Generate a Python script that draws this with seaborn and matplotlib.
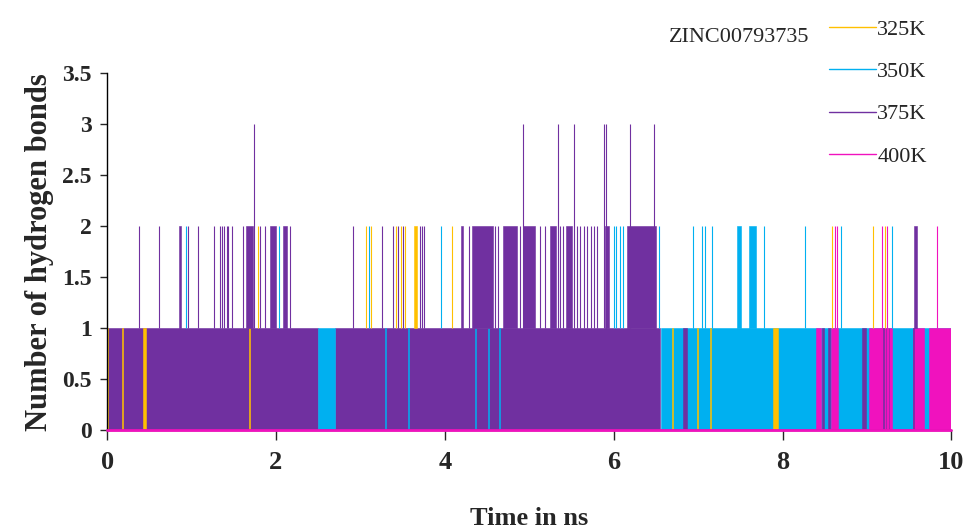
import matplotlib
matplotlib.use("Agg")
import matplotlib.pyplot as plt
from matplotlib.lines import Line2D
import seaborn as sns

## Hydrogen bonds of ZINC00793735 over 10 ns at four temperatures
temps = ["325K", "350K", "375K", "400K"]
colors = ["#FFC000", "#00B0F0", "#7030A0", "#F012BE"]

# stretches where each trace sits at 1 bond (start ns, end ns)
fill1_325 = [(0.0, 0.012), (0.175, 0.187), (0.42, 0.46), (1.685, 1.697),
             (6.685, 6.697), (6.985, 6.997), (7.145, 7.157), (7.89, 7.95)]
fill1_350 = [(2.50, 2.70), (3.295, 3.307), (3.565, 3.577), (4.355, 4.367),
             (4.505, 4.517), (4.645, 4.657), (6.555, 10.0)]
fill1_375 = [(0.012, 2.50), (2.70, 6.55), (6.82, 6.87), (8.47, 8.49),
             (8.54, 8.56), (8.94, 8.99), (9.19, 9.20), (9.22, 9.23),
             (9.255, 9.265), (9.545, 9.56)]
fill1_400 = [(8.39, 8.46), (8.57, 8.66), (9.02, 9.16), (9.16, 9.29),
             (9.55, 9.67), (9.73, 10.0)]

# stretches held at 2 bonds
block2_325 = [(3.63, 3.67)]
block2_350 = [(7.46, 7.51), (7.60, 7.68)]
block2_375 = [(0.85, 0.87), (1.64, 1.73), (1.93, 2.00), (2.08, 2.13),
              (4.19, 4.22), (4.32, 4.57), (4.69, 4.85), (4.93, 5.07),
              (5.24, 5.32), (5.44, 5.50), (5.90, 5.94), (6.16, 6.50),
              (9.56, 9.59)]
block2_400 = []

# single frames reaching 2 bonds
spike2_325 = [1.786, 3.07, 3.12, 3.42, 3.48, 3.53, 4.09, 8.59, 9.07, 9.21]
spike2_350 = [0.93, 2.03, 3.10, 3.96, 6.00, 6.03, 6.07, 6.11, 6.54, 6.94,
              7.04, 7.08, 7.16, 7.78, 8.26, 8.69, 9.29]
spike2_375 = [0.376, 0.616, 0.953, 1.071, 1.268, 1.335, 1.359, 1.383, 1.414,
              1.434, 1.481, 1.612, 1.809, 1.872, 2.16, 2.91, 3.25, 3.39,
              3.45, 3.51, 3.70, 3.73, 3.75, 4.29, 4.59, 4.63, 4.89, 5.13,
              5.19, 5.36, 5.40, 5.56, 5.60, 5.65, 5.68, 5.73, 5.77, 5.80]
spike2_400 = [8.62, 8.64, 9.18, 9.24, 9.83]

# single frames reaching 3 bonds
spike3_375 = [1.735, 4.92, 5.34, 5.53, 5.88, 5.91, 6.19, 6.48]

y_ticks = [0, 0.5, 1, 1.5, 2, 2.5, 3, 3.5]
y_tick_labels = ["0", "0.5", "1", "1.5", "2", "2.5", "3", "3.5"]
x_ticks = [0, 2, 4, 6, 8, 10]

sns.set_style("ticks")
plt.rcParams['font.family'] = "Liberation Serif"

fig, ax = plt.subplots(figsize=(9.65, 5.31), dpi=100)
fig.subplots_adjust(left=0.111, right=0.986, bottom=0.19, top=0.862)

fills = [fill1_325, fill1_350, fill1_375, fill1_400]
blocks = [block2_325, block2_350, block2_375, block2_400]
spikes = [spike2_325, spike2_350, spike2_375, spike2_400]

# level-1 stretches, widest first so narrow ones stay visible
segs = []
for c, f in zip(colors, fills):
    for s, e in f:
        segs.append((e - s, s, c))
segs.sort(key=lambda r: -r[0])
ax.bar([r[1] for r in segs], 1, width=[r[0] for r in segs], bottom=0,
       align='edge', color=[r[2] for r in segs],
       edgecolor=[r[2] for r in segs], linewidth=0.4)

for c, b, sp in zip(colors, blocks, spikes):
    if b:
        ax.bar([s for s, e in b], 1, width=[e - s for s, e in b], bottom=1,
               align='edge', color=c, edgecolor=c, linewidth=0.4)
    ax.vlines(sp, 1, 2, colors=c, linewidth=0.8)
ax.vlines(spike3_375, 1, 3, colors=colors[2], linewidth=0.8)

# 400K baseline at zero bonds
ax.axhline(0, color=colors[3], linewidth=2, clip_on=False, zorder=3)

ax.set_xlim(0, 10)
ax.set_ylim(0, 3.5)
ax.set_xticks(x_ticks)
ax.set_yticks(y_ticks)
ax.set_yticklabels(y_tick_labels)
ax.tick_params(axis='x', direction='out', length=7, width=1, labelsize=19, pad=8)
ax.tick_params(axis='y', direction='out', length=5, width=1, labelsize=17, pad=6)
for lab in ax.get_xticklabels() + ax.get_yticklabels():
    lab.set_fontweight('bold')
sns.despine(ax=ax)
for sp_ in ['left', 'bottom']:
    ax.spines[sp_].set_color('black')
    ax.spines[sp_].set_linewidth(1)

ax.set_xlabel("Time in ns", fontsize=19, fontweight='bold', labelpad=24)
ax.set_ylabel("Number of hydrogen bonds", fontsize=22, fontweight='bold', labelpad=6)

fig.text(0.766, 0.930, "ZINC00793735", ha='center', va='center', fontsize=16)
handles = [Line2D([], [], color=c, linewidth=1) for c in colors]
fig.legend(handles, temps, loc='upper left', bbox_to_anchor=(0.848, 0.985),
           frameon=False, fontsize=16, handlelength=2.1, handletextpad=0.05,
           labelspacing=0.98, borderpad=0)

fig.savefig("out.png", dpi=100)
